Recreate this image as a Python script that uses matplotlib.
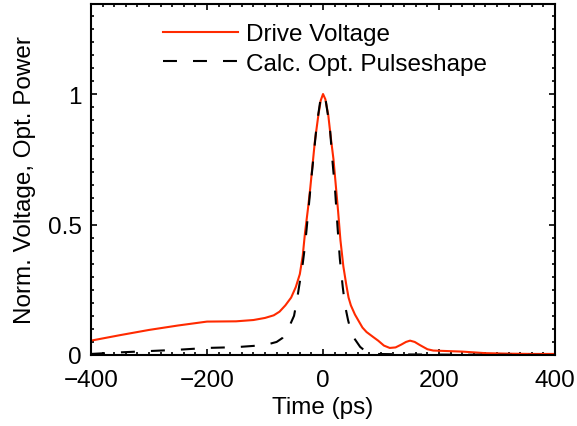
import matplotlib
matplotlib.use("Agg")
import matplotlib.pyplot as plt
from matplotlib.ticker import MultipleLocator

plt.rcParams['font.family'] = ['Liberation Sans', 'DejaVu Sans']
plt.rcParams['font.size'] = 17.5

# drive voltage (time in ps, normalised)
drive_t = [-400, -350, -300, -250, -200, -150, -120, -100, -85, -75, -65, -55,
           -47, -40, -35, -31, -26, -22, -18, -14, -8, -4, 0, 4, 9, 13, 18,
           22, 26, 30, 35, 40, 44, 48, 55, 62, 68, 75, 87, 95, 105, 115, 125,
           135, 143, 150, 158, 167, 180, 190, 240, 280, 320, 360, 400]
drive_v = [0.055, 0.076, 0.096, 0.113, 0.128, 0.129, 0.134, 0.142, 0.152, 0.166,
           0.19, 0.22, 0.26, 0.31, 0.38, 0.47, 0.56, 0.64, 0.73, 0.82, 0.92, 0.975,
           1.0, 0.98, 0.92, 0.84, 0.75, 0.65, 0.55, 0.44, 0.34, 0.27, 0.22, 0.19,
           0.155, 0.128, 0.105, 0.088, 0.068, 0.055, 0.036, 0.027, 0.029, 0.04,
           0.05, 0.055, 0.05, 0.038, 0.022, 0.017, 0.013, 0.007, 0.005, 0.004, 0.004]

# calculated optical pulse shape
pulse_t = [-400, -350, -300, -250, -200, -150, -100, -80, -70, -60, -50, -45,
           -40, -35, -31, -25, -20, -15, -11, -5, 0, 5, 12, 16, 21, 25, 29,
           34, 38, 43, 47, 55, 64, 75, 90, 150, 250, 400]
pulse_v = [0.004, 0.01, 0.015, 0.02, 0.027, 0.03, 0.038, 0.05, 0.065, 0.1, 0.15,
           0.21, 0.28, 0.35, 0.42, 0.56, 0.68, 0.79, 0.88, 0.97, 1.0, 0.97, 0.866,
           0.75, 0.624, 0.49, 0.368, 0.26, 0.189, 0.135, 0.1, 0.06, 0.031, 0.011,
           0.004, 0.002, 0.001, 0.0]

fig = plt.figure(figsize=(5.77, 4.27), dpi=100)
ax = fig.add_axes([0.1577, 0.1663, 0.8043, 0.822])

ax.plot(drive_t, drive_v, color='#ff2a00', lw=1.5, label='Drive Voltage')
line, = ax.plot(pulse_t, pulse_v, color='black', lw=1.5, label='Calc. Opt. Pulseshape')
line.set_dashes([6.7, 7.7])

ax.set_xlim(-400, 400)
ax.set_ylim(0, 1.345)
ax.set_xticks([-400, -200, 0, 200, 400])
ax.set_yticks([0, 0.5, 1])
ax.set_yticklabels(['0', '0.5', '1'])
ax.xaxis.set_minor_locator(MultipleLocator(20))
ax.yaxis.set_minor_locator(MultipleLocator(0.05))
ax.tick_params(which='both', direction='in', top=True, right=True, width=1.2)
ax.tick_params(which='major', length=4)
ax.tick_params(which='minor', length=2)
ax.tick_params(axis='x', pad=10)
ax.tick_params(axis='y', pad=6.5)
for s in ax.spines.values():
    s.set_linewidth(1.5)

ax.set_xlabel('Time (ps)', labelpad=4)
ax.set_ylabel('Norm. Voltage, Opt. Power', labelpad=9)

ax.legend(loc='upper left', bbox_to_anchor=(0.155, 0.945), frameon=False,
          borderaxespad=0, borderpad=0, handlelength=3.1, handletextpad=0.33,
          labelspacing=0.3)

fig.savefig('out.png', dpi=100)
